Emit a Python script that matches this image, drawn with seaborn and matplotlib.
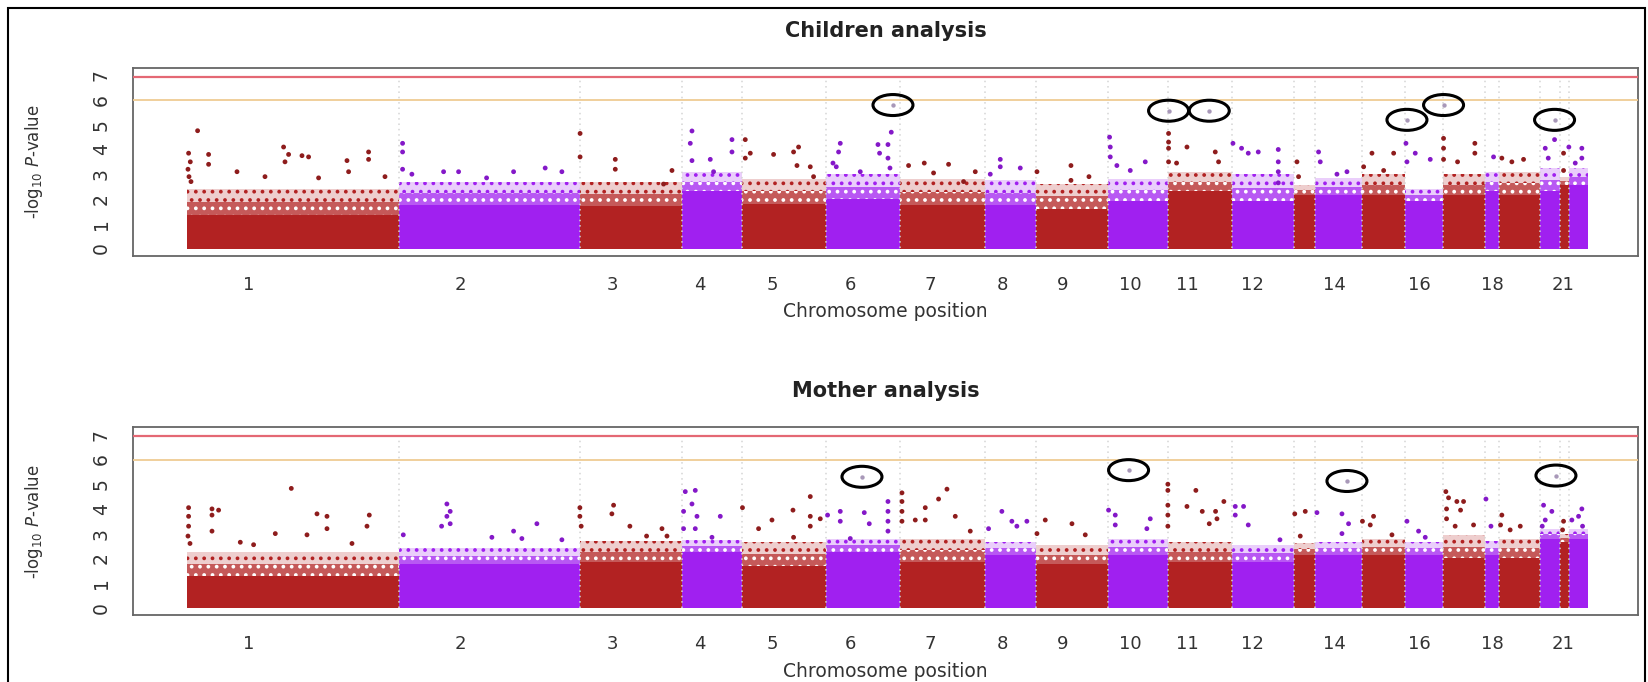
import matplotlib
matplotlib.use("Agg")
import matplotlib.pyplot as plt
from matplotlib.patches import Ellipse, Rectangle
import numpy as np
import pandas as pd
import seaborn as sns

# chromosome widths on the plot's x scale, and axis ticks (as drawn in the figure)
chrom_len = [211.6, 181, 102.4, 60, 84, 74.3, 84.3, 51.4, 71.6, 60, 64.4,
             62.3, 21, 46.7, 43.3, 37.3, 42.7, 13.3, 41.7, 19.3, 9, 19.4]
tick_pos = [62, 273, 425, 513, 585, 663, 743, 815, 876, 943, 1000, 1065,
            1115, 1147, 1194, 1232, 1271, 1305, 1326, 1361, 1376, 1389]
tick_lab = ['1', '2', '3', '4', '5', '6', '7', '8', '9', '10', '11', '12',
            '', '14', '', '16', '', '18', '', '', '21', '']

suggestive = 6.0
genomewide = 6.95

# dense block of SNPs per chromosome: fully solid level and upper edge of the cloud
child_solid = [1.35, 1.75, 1.7, 2.3, 1.8, 2.0, 1.75, 1.75, 1.6, 1.9, 2.3,
               1.9, 2.15, 2.15, 2.15, 1.9, 2.15, 2.3, 2.15, 2.3, 2.55, 2.55]
child_top = [2.4, 2.7, 2.7, 3.1, 2.8, 3.0, 2.8, 2.75, 2.6, 2.8, 3.1,
             3.0, 2.55, 2.85, 3.0, 2.4, 3.0, 3.1, 3.1, 3.25, 2.9, 3.25]
mother_solid = [1.3, 1.75, 1.85, 2.25, 1.7, 2.25, 1.85, 2.15, 1.75, 2.15, 1.85,
                1.85, 2.15, 2.15, 2.15, 2.15, 2.0, 2.15, 2.0, 2.8, 2.65, 2.8]
mother_top = [2.25, 2.4, 2.7, 2.75, 2.65, 2.8, 2.8, 2.65, 2.55, 2.8, 2.65,
              2.55, 2.6, 2.65, 2.8, 2.65, 2.95, 2.7, 2.8, 3.2, 3.0, 3.2]

# isolated SNPs above the cloud: (chromosome, position in chromosome, -log10 p)
child_peaks = [
    (1, 10.6, 4.76), (1, 1.6, 3.85), (1, 3.3, 3.5), (1, 1, 3.2), (1, 2, 2.9), (1, 4, 2.7),
    (1, 21.6, 3.8), (1, 21.6, 3.4), (1, 50, 3.1), (1, 78, 2.9), (1, 96.6, 4.1),
    (1, 101.6, 3.8), (1, 98, 3.5), (1, 115, 3.75), (1, 121.6, 3.7), (1, 131.6, 2.85),
    (1, 160, 3.55), (1, 161.6, 3.1), (1, 181.6, 3.9), (1, 181.6, 3.6), (1, 198, 2.9),
    (2, 4, 4.25), (2, 4, 3.9), (2, 4, 3.2), (2, 13.3, 3.0), (2, 45, 3.1), (2, 60, 3.1),
    (2, 88, 2.85), (2, 115, 3.1), (2, 146.6, 3.25), (2, 163.3, 3.1),
    (3, 0.5, 4.65), (3, 0.5, 3.7), (3, 35.7, 3.6), (3, 35.7, 3.2), (3, 84, 2.6), (3, 92.4, 3.15),
    (4, 10, 4.75), (4, 8.3, 4.25), (4, 10, 3.55), (4, 28.3, 3.6), (4, 50, 4.4), (4, 50, 3.9),
    (4, 31.6, 3.1),
    (5, 3.3, 4.4), (5, 3.3, 3.65), (5, 8.3, 3.85), (5, 31.6, 3.8), (5, 51.6, 3.9),
    (5, 56.6, 4.1), (5, 55, 3.35), (5, 68.3, 3.3), (5, 71.6, 2.9),
    (6, 14.3, 4.25), (6, 12.6, 3.9), (6, 7, 3.45), (6, 10.3, 3.3), (6, 52, 4.2), (6, 62, 4.2),
    (6, 65.3, 4.7), (6, 62, 3.65), (6, 53.6, 3.85), (6, 64, 3.25), (6, 34.3, 3.1),
    (7, 8.3, 3.35), (7, 24, 3.45), (7, 48.3, 3.4), (7, 75, 3.1), (7, 33.3, 3.05), (7, 63.3, 2.7),
    (8, 15.7, 3.6), (8, 15.7, 3.3), (8, 35.7, 3.25), (8, 5.7, 3.0),
    (9, 35, 3.35), (9, 35, 2.75), (9, 1, 3.1), (9, 53, 2.9),
    (10, 2, 4.5), (10, 2.7, 4.1), (10, 2.7, 3.7), (10, 9.3, 3.35), (10, 22.7, 3.15), (10, 37.7, 3.5),
    (11, 1, 4.65), (11, 1, 4.3), (11, 1, 4.05), (11, 1, 3.5), (11, 19.4, 4.1), (11, 47.7, 3.9),
    (11, 51, 3.5), (11, 9, 3.45),
    (12, 1, 4.25), (12, 9.6, 4.05), (12, 16.3, 3.85), (12, 26.3, 3.9), (12, 46.3, 4.0),
    (12, 46.3, 3.5), (12, 46.3, 3.1), (12, 46.3, 2.65),
    (13, 2.7, 3.5), (13, 4.3, 2.9),
    (14, 3.3, 3.9), (14, 5, 3.5), (14, 31.7, 3.1), (14, 21.7, 3.0),
    (15, 10, 3.85), (15, 31.7, 3.85), (15, 1.7, 3.3), (15, 21.7, 3.15),
    (16, 0.7, 4.25), (16, 10, 3.85), (16, 25, 3.6), (16, 1.7, 3.5),
    (17, 1, 4.45), (17, 1, 4.05), (17, 1, 3.6), (17, 32.3, 4.25), (17, 32.3, 3.85), (17, 15, 3.5),
    (18, 8.3, 3.7),
    (19, 3.3, 3.65), (19, 13.3, 3.5), (19, 25, 3.6),
    (20, 14.3, 4.4), (20, 5, 4.05), (20, 8, 3.65),
    (21, 4, 3.85), (21, 4, 3.15),
    (22, 0.3, 4.1), (22, 13.3, 4.05), (22, 13.3, 3.65), (22, 6.7, 3.45),
]
mother_peaks = [
    (1, 1.6, 4.05), (1, 1.6, 3.7), (1, 1.6, 3.3), (1, 1, 2.9), (1, 3, 2.6), (1, 25, 4.0),
    (1, 25, 3.75), (1, 31.6, 3.95), (1, 25, 3.1), (1, 104.3, 4.83), (1, 130, 3.8),
    (1, 140, 3.7), (1, 140, 3.2), (1, 88.3, 3.0), (1, 120, 2.95), (1, 182.3, 3.75),
    (1, 180, 3.3), (1, 53.3, 2.65), (1, 66.6, 2.55), (1, 165, 2.6),
    (2, 48.3, 4.2), (2, 51.6, 3.9), (2, 48.3, 3.7), (2, 51.6, 3.4), (2, 43, 3.3), (2, 4.7, 2.95),
    (2, 138.3, 3.4), (2, 115, 3.1), (2, 93.3, 2.85), (2, 123.3, 2.8), (2, 163.3, 2.75),
    (3, 0.3, 4.05), (3, 0.3, 3.7), (3, 1.6, 3.3), (3, 34, 4.15), (3, 32.3, 3.8), (3, 50.3, 3.3),
    (3, 67, 2.9), (3, 82.4, 3.2), (3, 87.4, 2.9),
    (4, 3.3, 4.7), (4, 13.3, 4.75), (4, 10, 4.2), (4, 15, 3.7), (4, 38.3, 3.7), (4, 1.6, 3.9),
    (4, 1.6, 3.2), (4, 30, 2.85), (4, 13.3, 3.2),
    (5, 0.5, 4.05), (5, 30, 3.55), (5, 51, 3.95), (5, 68.3, 4.5), (5, 68.3, 3.7), (5, 68.3, 3.3),
    (5, 51.6, 2.85), (5, 78.3, 3.6), (5, 16.6, 3.2),
    (6, 14.3, 3.9), (6, 14.3, 3.5), (6, 1.6, 3.75), (6, 38.3, 3.85), (6, 43.3, 3.4),
    (6, 62, 4.3), (6, 62, 3.9), (6, 62, 3.5), (6, 62, 3.1), (6, 24.3, 2.8),
    (7, 1.7, 4.65), (7, 1.7, 4.3), (7, 1.7, 3.9), (7, 1.7, 3.5), (7, 46.7, 4.8), (7, 38.3, 4.4),
    (7, 25, 4.05), (7, 25, 3.55), (7, 55, 3.7), (7, 70, 3.1), (7, 15, 3.55),
    (8, 17.3, 3.9), (8, 27.3, 3.5), (8, 42.3, 3.5), (8, 32.3, 3.3), (8, 4, 3.2),
    (9, 9.3, 3.55), (9, 36, 3.4), (9, 49.3, 2.95), (9, 1, 3.0),
    (10, 1, 3.95), (10, 7.7, 3.75), (10, 7.7, 3.35), (10, 42.7, 3.6), (10, 39.3, 3.2),
    (11, 0.3, 5.0), (11, 0.3, 4.75), (11, 0.3, 4.15), (11, 0.3, 3.75), (11, 0.3, 3.3),
    (11, 28.3, 4.75), (11, 19.4, 4.1), (11, 34.7, 3.9), (11, 48, 3.9), (11, 56.3, 4.3),
    (11, 49.4, 3.6), (11, 41.7, 3.4),
    (12, 3.3, 4.1), (12, 11.6, 4.1), (12, 3.3, 3.75), (12, 16.3, 3.35), (12, 48, 2.75),
    (13, 0.5, 3.8), (13, 11, 3.9), (13, 6, 2.9),
    (14, 1.7, 3.85), (14, 26.7, 3.8), (14, 26.7, 3.0), (14, 33.3, 3.4),
    (15, 11.6, 3.7), (15, 8.3, 3.35), (15, 30, 2.95), (15, 0.5, 3.5),
    (16, 1.7, 3.5), (16, 13.3, 3.1), (16, 20, 2.85),
    (17, 3.3, 4.7), (17, 6, 4.45), (17, 14.3, 4.3), (17, 21, 4.3), (17, 4, 4.0), (17, 18, 3.95),
    (17, 4, 3.6), (17, 12.6, 3.3), (17, 31, 3.35),
    (18, 0.7, 4.4), (18, 5.7, 3.3),
    (19, 3.3, 3.75), (19, 2, 3.35), (19, 21.7, 3.3), (19, 11.6, 3.15),
    (20, 3.3, 4.15), (20, 11.6, 3.9), (20, 5, 3.55), (20, 2, 3.3),
    (21, 4, 3.5), (21, 3, 3.15),
    (22, 13.3, 4.0), (22, 10, 3.7), (22, 3.3, 3.55), (22, 14, 3.3),
]

# circled top hits
child_hits = [(6, 67, 5.8), (11, 1, 5.57), (11, 41.7, 5.57), (16, 1.7, 5.2),
              (17, 1, 5.8), (20, 14.3, 5.2)]
mother_hits = [(6, 36, 5.3), (10, 21, 5.57), (14, 31.7, 5.13), (20, 15.7, 5.35)]

RED = '#B22222'
PURPLE = '#A020F0'
chrom_start = np.concatenate([[0], np.cumsum(chrom_len)[:-1]])
chrom_end = np.cumsum(chrom_len)


def to_frame(rows):
    df = pd.DataFrame(rows, columns=['chrom', 'pos', 'logp'])
    df['x'] = chrom_start[df['chrom'] - 1] + df['pos']
    df['group'] = np.where(df['chrom'] % 2 == 1, 'odd', 'even')
    return df


def manhattan(ax, title, solid, top, peaks, hits):
    for i in range(len(chrom_len)):
        c = RED if i % 2 == 0 else PURPLE
        xs = [chrom_start[i], chrom_end[i]]
        mid = solid[i] + 0.5 * (top[i] - solid[i])
        ax.fill_between(xs, -0.02, solid[i], color=c, lw=0, zorder=2)
        # speckled upper part of the cloud: colour with white flecks, then sparse dots
        ax.fill_between(xs, solid[i], mid, facecolor=c, alpha=0.75, lw=0, zorder=2)
        ax.fill_between(xs, solid[i], mid, facecolor='none', edgecolor='white',
                        hatch='..', lw=0, zorder=2)
        ax.fill_between(xs, mid, top[i], facecolor=c, alpha=0.22, lw=0, zorder=2)
        ax.fill_between(xs, mid, top[i], facecolor='none', edgecolor=c,
                        hatch='..', lw=0, zorder=2)

    df = to_frame(peaks)
    sns.scatterplot(data=df, x='x', y='logp', hue='group',
                    palette={'odd': '#8E1C1C', 'even': '#8418C8'}, s=12, linewidth=0,
                    legend=False, ax=ax, zorder=4)

    for b in chrom_end[:-1]:
        ax.plot([b, b], [0, 6.9], color='#d4d4d4', lw=1.1, ls=(0, (1, 2.5)), zorder=3)

    ax.axhline(genomewide, color='#E46874', lw=1.6, zorder=3)
    ax.axhline(suggestive, color='#EFCB93', lw=1.3, zorder=3)

    hf = to_frame(hits)
    sns.scatterplot(data=hf, x='x', y='logp', color='#a898b8', s=10, linewidth=0,
                    legend=False, ax=ax, zorder=4)
    for _, r in hf.iterrows():
        ax.add_patch(Ellipse((r['x'], r['logp']), width=40, height=0.85,
                             fill=False, ec='black', lw=2.2, zorder=5))

    ax.set_xlim(-54, 1451)
    ax.set_ylim(-0.3, 7.3)
    ax.set_yticks(range(8))
    ax.set_yticklabels([str(v) for v in range(8)], rotation=90, va='center',
                       fontsize=13.5, color='#333333')
    ax.set_xticks(tick_pos)
    ax.set_xticklabels(tick_lab, fontsize=13, color='#333333')
    ax.tick_params(axis='y', length=12, width=1.1, color='#555555', pad=4)
    ax.tick_params(axis='x', length=6.5, width=1.1, color='#555555', pad=8)
    for sp in ax.spines.values():
        sp.set_visible(True)
        sp.set_color('#666666')
        sp.set_linewidth(1.3)
    ax.set_xlabel('Chromosome position', fontsize=13.5, color='#333333', labelpad=6)
    ax.set_ylabel(r'-log$_{10}$ $\it{P}$-value', fontsize=12, color='#333333', labelpad=34)
    ax.set_title(title, fontsize=15, fontweight='bold', color='#222222', pad=22)
    ax.grid(False)


sns.set_style('white')
plt.rcParams['font.family'] = ['DejaVu Sans']
plt.rcParams['hatch.linewidth'] = 1.5

fig = plt.figure(figsize=(16.48, 6.82), dpi=100)
ax1 = fig.add_axes([0.0807, 0.6251, 0.9132, 0.2752])
ax2 = fig.add_axes([0.0807, 0.0981, 0.9132, 0.2752])
manhattan(ax1, 'Children analysis', child_solid, child_top, child_peaks, child_hits)
manhattan(ax2, 'Mother analysis', mother_solid, mother_top, mother_peaks, mother_hits)

fig.patches.append(Rectangle((8 / 1648, -0.05), 1637 / 1648, 0.05 + 1 - 8 / 682,
                             transform=fig.transFigure, fill=False, ec='black', lw=1.5))

fig.savefig('out.png', dpi=100)
